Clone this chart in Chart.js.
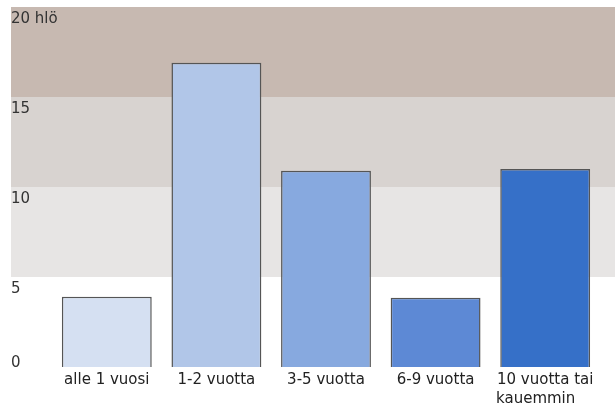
<!DOCTYPE html>
<html>
<head>
<meta charset="utf-8">
<script src="https://cdn.jsdelivr.net/npm/chart.js@4"></script>
<style>
  html, body { margin: 0; padding: 0; background: #fff; }
  #wrap { width: 615px; height: 403px; }
</style>
</head>
<body>
<div id="wrap"><canvas id="chart" width="615" height="403"></canvas></div>
<script>
// Years of experience (people)
const categories = ["alle 1 vuosi", "1-2 vuotta", "3-5 vuotta", "6-9 vuotta", ["10 vuotta tai", "kauemmin"]];
const values = [3.9, 16.9, 10.9, 3.85, 11];
const yTicks = [0, 5, 10, 15, 20];
const yUnit = "hlö";

const barColors = ["#d5e0f2", "#b1c6e8", "#87a9df", "#5d89d5", "#3670c8"];
const bandColors = ["#ffffff", "#e7e5e4", "#d8d3d0", "#c7b9b1"];

// background bands + y labels drawn from the y scale
const bandsPlugin = {
  id: "bands",
  beforeDatasetsDraw(chart) {
    const c = chart.ctx;
    const y = chart.scales.y;
    c.save();
    for (let i = 0; i < yTicks.length - 1; i++) {
      const top = y.getPixelForValue(yTicks[i + 1]);
      const bottom = y.getPixelForValue(yTicks[i]);
      c.fillStyle = bandColors[i];
      c.fillRect(11, top, chart.width - 11, bottom - top);
    }
    c.fillStyle = "#333";
    c.font = "15px DejaVu Sans";
    c.textAlign = "left";
    c.textBaseline = "alphabetic";
    yTicks.forEach((v, i) => {
      const py = y.getPixelForValue(v);
      const label = i === yTicks.length - 1 ? v + " " + yUnit : String(v);
      // zero sits on its line, the rest hang just under theirs
      c.fillText(label, 11, v === 0 ? py : py + 16);
    });
    c.restore();
  },
};

// left-align wrapped label lines (pad the short ones)
function tickLabel(value) {
  const lbl = this.getLabelForValue(value);
  if (!Array.isArray(lbl)) return lbl;
  const w = Math.max(...lbl.map((s) => s.length));
  return lbl.map((s) => s + "\u00a0".repeat(Math.round((w - s.length) * 0.8)));
}

new Chart(document.getElementById("chart").getContext("2d"), {
  type: "bar",
  data: {
    labels: categories,
    datasets: [
      {
        data: values,
        backgroundColor: barColors,
        borderColor: "#555",
        borderWidth: 1.5,
        barPercentage: 0.82,
        categoryPercentage: 1,
      },
    ],
  },
  options: {
    responsive: false,
    animation: false,
    layout: { padding: { left: 52, right: 15, top: 7, bottom: 0 } },
    plugins: { legend: { display: false }, tooltip: { enabled: false } },
    scales: {
      x: {
        grid: { display: false, drawTicks: false },
        border: { display: false },
        afterFit(scale) { scale.height = 36; },
        ticks: {
          color: "#222",
          padding: 4,
          maxRotation: 0,
          autoSkip: false,
          callback: tickLabel,
          font: { family: "DejaVu Sans", size: 15, lineHeight: 1.25 },
        },
      },
      y: {
        display: false,
        min: 0,
        max: 20,
        ticks: { stepSize: 5 },
      },
    },
  },
  plugins: [bandsPlugin],
});
</script>
</body>
</html>
